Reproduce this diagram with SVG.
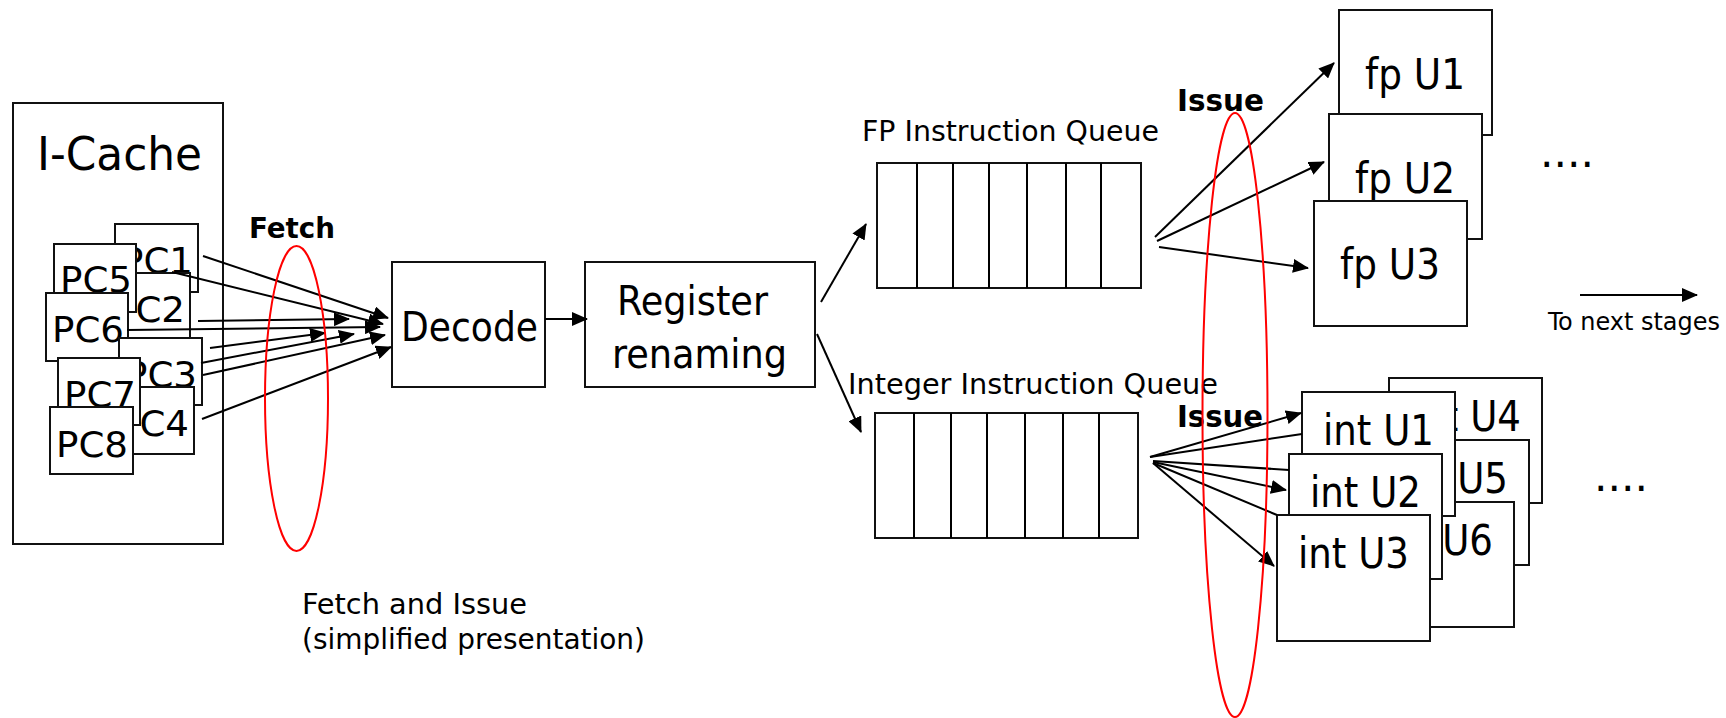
<svg xmlns="http://www.w3.org/2000/svg" width="1726" height="718" viewBox="0 0 1726 718">
  <style>
    .box { fill: #fff; stroke: #111; stroke-width: 2; }
    .t { font-family: "DejaVu Sans Condensed", "DejaVu Sans", sans-serif; fill: #000; }
    .b { font-family: "DejaVu Sans Condensed", "DejaVu Sans", sans-serif; font-weight: bold; fill: #000; }
    .pc { font-size: 36px; }
    .unit { font-size: 42px; }
    .lbl { font-size: 29px; }
    .wire { stroke: #000; stroke-width: 2; fill: none; }
    .arrow { stroke: #000; stroke-width: 2; fill: none; marker-end: url(#head); }
    .ring { fill: none; stroke: #f00; stroke-width: 2; }
  </style>
  <defs>
    <marker id="head" markerUnits="userSpaceOnUse" viewBox="0 0 16 14" refX="15" refY="7" markerWidth="16" markerHeight="14" orient="auto">
      <path d="M0,0 L16,7 L0,14 z" fill="#000"/>
    </marker>
  </defs>
  <rect width="1726" height="718" fill="#fff"/>

  <!-- instruction cache with the eight program counters -->
  <g id="icache">
    <rect class="box" x="13" y="103" width="210" height="441"/>
    <text class="t" x="37" y="170" font-size="47" textLength="165" lengthAdjust="spacingAndGlyphs">I-Cache</text>
  </g>
  <g id="pc1">
    <rect class="box" x="115" y="224" width="83" height="68"/>
    <text class="t pc" x="121" y="273" textLength="72" lengthAdjust="spacingAndGlyphs">PC1</text>
  </g>
  <g id="pc2">
    <rect class="box" x="107" y="273" width="83" height="66"/>
    <text class="t pc" x="113" y="322" textLength="72" lengthAdjust="spacingAndGlyphs">PC2</text>
  </g>
  <g id="pc5">
    <rect class="box" x="54" y="244" width="82" height="68"/>
    <text class="t pc" x="60" y="292" textLength="72" lengthAdjust="spacingAndGlyphs">PC5</text>
  </g>
  <g id="pc6">
    <rect class="box" x="46" y="293" width="82" height="68"/>
    <text class="t pc" x="52" y="342" textLength="72" lengthAdjust="spacingAndGlyphs">PC6</text>
  </g>
  <g id="pc3">
    <rect class="box" x="119" y="338" width="83" height="67"/>
    <text class="t pc" x="125" y="387" textLength="72" lengthAdjust="spacingAndGlyphs">PC3</text>
  </g>
  <g id="pc4">
    <rect class="box" x="111" y="387" width="83" height="67"/>
    <text class="t pc" x="117" y="436" textLength="72" lengthAdjust="spacingAndGlyphs">PC4</text>
  </g>
  <g id="pc7">
    <rect class="box" x="58" y="358" width="82" height="67"/>
    <text class="t pc" x="64" y="407" textLength="72" lengthAdjust="spacingAndGlyphs">PC7</text>
  </g>
  <g id="pc8">
    <rect class="box" x="50" y="407" width="83" height="67"/>
    <text class="t pc" x="56" y="457" textLength="72" lengthAdjust="spacingAndGlyphs">PC8</text>
  </g>

  <g id="fetch-label">
    <text class="b" x="249" y="238" font-size="29" textLength="86" lengthAdjust="spacingAndGlyphs">Fetch</text>
  </g>

  <g id="decode">
    <rect class="box" x="392" y="262" width="153" height="125"/>
    <text class="t" x="401" y="341" font-size="41" textLength="137" lengthAdjust="spacingAndGlyphs">Decode</text>
  </g>

  <g id="rename">
    <rect class="box" x="585" y="262" width="230" height="125"/>
    <text class="t" x="617" y="315" font-size="41" textLength="151" lengthAdjust="spacingAndGlyphs">Register</text>
    <text class="t" x="612" y="368" font-size="41" textLength="175" lengthAdjust="spacingAndGlyphs">renaming</text>
  </g>

  <!-- issue queues: seven slots each -->
  <g id="fp-queue">
    <text class="t lbl" x="862" y="141" textLength="297" lengthAdjust="spacingAndGlyphs">FP Instruction Queue</text>
    <rect class="box" x="877" y="163" width="264" height="125"/>
    <path class="wire" d="M917,163V288 M953,163V288 M989,163V288 M1027,163V288 M1066,163V288 M1101,163V288"/>
  </g>
  <g id="int-queue">
    <text class="t lbl" x="848" y="394" textLength="370" lengthAdjust="spacingAndGlyphs">Integer Instruction Queue</text>
    <rect class="box" x="875" y="413" width="263" height="125"/>
    <path class="wire" d="M914,413V538 M951,413V538 M987,413V538 M1025,413V538 M1063,413V538 M1099,413V538"/>
  </g>

  <g id="issue-labels">
    <text class="b" x="1177" y="111" font-size="30" textLength="87" lengthAdjust="spacingAndGlyphs">Issue</text>
    <text class="b" x="1177" y="427" font-size="30" textLength="86" lengthAdjust="spacingAndGlyphs">Issue</text>
  </g>

  <!-- floating point units -->
  <g id="fp-u1">
    <rect class="box" x="1339" y="10" width="153" height="125"/>
    <text class="t unit" x="1365" y="89" textLength="100" lengthAdjust="spacingAndGlyphs">fp U1</text>
  </g>
  <g id="fp-u2">
    <rect class="box" x="1329" y="114" width="153" height="125"/>
    <text class="t unit" x="1355" y="193" textLength="100" lengthAdjust="spacingAndGlyphs">fp U2</text>
  </g>
  <g id="fp-u3">
    <rect class="box" x="1314" y="201" width="153" height="125"/>
    <text class="t unit" x="1340" y="279" textLength="100" lengthAdjust="spacingAndGlyphs">fp U3</text>
  </g>
  <g id="fp-more">
    <text class="t unit" x="1540" y="167" textLength="54" lengthAdjust="spacingAndGlyphs">....</text>
  </g>

  <!-- integer units -->
  <g id="int-u4">
    <rect class="box" x="1389" y="378" width="153" height="125"/>
    <text class="t unit" x="1410" y="431" textLength="111" lengthAdjust="spacingAndGlyphs">int U4</text>
  </g>
  <g id="int-u5">
    <rect class="box" x="1376" y="440" width="153" height="125"/>
    <text class="t unit" x="1397" y="493" textLength="111" lengthAdjust="spacingAndGlyphs">int U5</text>
  </g>
  <g id="int-u6">
    <rect class="box" x="1361" y="502" width="153" height="125"/>
    <text class="t unit" x="1382" y="555" textLength="111" lengthAdjust="spacingAndGlyphs">int U6</text>
  </g>
  <g id="int-u1">
    <rect class="box" x="1302" y="392" width="153" height="124"/>
    <text class="t unit" x="1323" y="445" textLength="111" lengthAdjust="spacingAndGlyphs">int U1</text>
  </g>
  <g id="int-u2">
    <rect class="box" x="1289" y="454" width="153" height="125"/>
    <text class="t unit" x="1310" y="507" textLength="111" lengthAdjust="spacingAndGlyphs">int U2</text>
  </g>
  <g id="int-u3">
    <rect class="box" x="1277" y="515" width="153" height="126"/>
    <text class="t unit" x="1298" y="568" textLength="111" lengthAdjust="spacingAndGlyphs">int U3</text>
  </g>
  <g id="int-more">
    <text class="t unit" x="1594" y="491" textLength="54" lengthAdjust="spacingAndGlyphs">....</text>
  </g>

  <g id="next-stages">
    <text class="t" x="1548" y="330" font-size="24" textLength="172" lengthAdjust="spacingAndGlyphs">To next stages</text>
  </g>

  <g id="caption">
    <text class="t" x="302" y="614" font-size="28" textLength="225" lengthAdjust="spacingAndGlyphs">Fetch and Issue</text>
    <text class="t" x="302" y="649" font-size="28" textLength="343" lengthAdjust="spacingAndGlyphs">(simplified presentation)</text>
  </g>

  <!-- connectors -->
  <g id="connectors">
    <!-- fetch: PCs to decode -->
    <line class="arrow" x1="203" y1="256" x2="388" y2="318"/>
    <line class="arrow" x1="172" y1="272" x2="383" y2="324"/>
    <line class="arrow" x1="198" y1="321" x2="349" y2="319"/>
    <line class="arrow" x1="127" y1="330" x2="380" y2="327"/>
    <line class="arrow" x1="210" y1="348" x2="325" y2="333"/>
    <line class="arrow" x1="201" y1="363" x2="354" y2="334"/>
    <line class="arrow" x1="203" y1="375" x2="385" y2="335"/>
    <line class="arrow" x1="202" y1="419" x2="391" y2="347"/>
    <!-- pipeline -->
    <line class="arrow" x1="545" y1="319" x2="587" y2="319"/>
    <line class="arrow" x1="821" y1="302" x2="866" y2="224"/>
    <line class="arrow" x1="817" y1="334" x2="861" y2="432"/>
    <!-- fp issue -->
    <line class="arrow" x1="1155" y1="237" x2="1334" y2="63"/>
    <line class="arrow" x1="1157" y1="241" x2="1324" y2="162"/>
    <line class="arrow" x1="1159" y1="247" x2="1308" y2="268"/>
    <!-- integer issue -->
    <line class="arrow" x1="1150" y1="457" x2="1301" y2="413"/>
    <line class="wire" x1="1150" y1="457" x2="1302" y2="434"/>
    <line class="wire" x1="1153" y1="461" x2="1289" y2="470"/>
    <line class="arrow" x1="1153" y1="462" x2="1286" y2="490"/>
    <line class="wire" x1="1153" y1="463" x2="1277" y2="515"/>
    <line class="arrow" x1="1153" y1="463" x2="1274" y2="566"/>
    <!-- onward -->
    <line class="arrow" x1="1580" y1="295" x2="1697" y2="295"/>
  </g>

  <!-- fetch and issue stage markers -->
  <g id="stage-rings">
    <ellipse class="ring" cx="296.5" cy="398.5" rx="31.5" ry="152.5"/>
    <ellipse class="ring" cx="1235" cy="415" rx="32.5" ry="302"/>
  </g>
</svg>
